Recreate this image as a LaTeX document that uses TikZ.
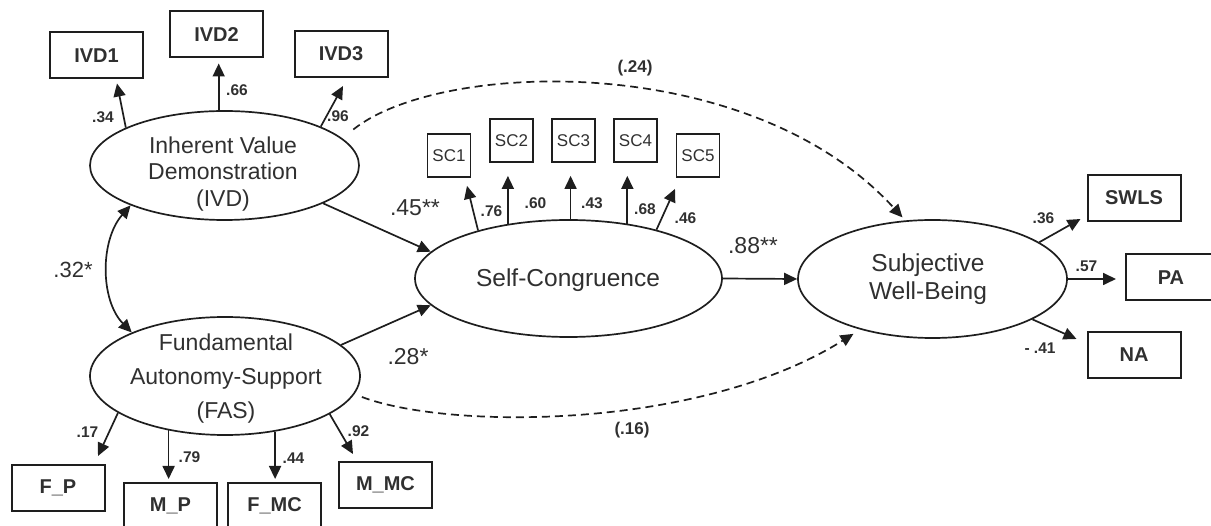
\documentclass[tikz,border=0pt]{standalone}
\usepackage{fontspec}
\setmainfont{Liberation Sans}
\usetikzlibrary{shapes.geometric,arrows.meta,calc}
\definecolor{linec}{HTML}{1E1E1E}
\definecolor{txtc}{HTML}{303030}
\begin{document}
\begin{tikzpicture}[x=1pt,y=-1pt,
  lat/.style={ellipse, draw=linec, line width=1.7pt, inner sep=0pt},
  lattxt/.style={align=center, text=txtc, inner sep=0pt},
  obs/.style={rectangle, draw=linec, line width=2pt, inner sep=0pt, text=txtc,
     font=\bfseries\fontsize{20}{20}\selectfont, minimum width=93pt, minimum height=46pt},
  scbox/.style={rectangle, draw=linec, line width=1.8pt, inner sep=0pt, text=txtc,
     font=\fontsize{17}{17}\selectfont, minimum width=43pt, minimum height=43pt},
  coef/.style={text=txtc, inner sep=0pt, font=\bfseries\fontsize{15.5}{16}\selectfont},
  bigcoef/.style={text=txtc, inner sep=0pt, font=\fontsize{23}{24}\selectfont},
  arr/.style={draw=linec, line width=1.7pt, -{Triangle[length=13pt,width=12pt]}},
  darr/.style={arr, dash pattern=on 8pt off 5pt},
]
\path[use as bounding box] (0,0) rectangle (1211,526);
\clip (0,0) rectangle (1211,526);

% latent variables
\node[lat, minimum width=269pt, minimum height=109pt] (ivd) at (224.5,165.5) {};
\node[lattxt, font=\fontsize{23}{26.5}\selectfont] (ivdt) at (223,174) {Inherent Value\\Demonstration\\(IVD)};
\node[lat, minimum width=270pt, minimum height=118pt] (fas) at (225,376) {};
\node[lattxt, font=\fontsize{23}{34}\selectfont] (fast) at (226,379) {Fundamental\\Autonomy-Support\\(FAS)};
\node[lat, minimum width=307pt, minimum height=117pt] (sc) at (568.5,278.5) {};
\node[lattxt, font=\fontsize{24.5}{28}\selectfont] (sct) at (568,280) {Self-Congruence};
\node[lat, minimum width=269pt, minimum height=118pt] (swb) at (932.5,279) {};
\node[lattxt, font=\fontsize{24.5}{28}\selectfont] (swbt) at (928,279) {Subjective\\Well-Being};

% indicators
\node[obs] (ivd1) at (96.5,55.5) {IVD1};
\node[obs] (ivd2) at (216.5,34.5) {IVD2};
\node[obs] (ivd3) at (341,54) {IVD3};
\node[scbox] (sc1) at (449,155.5) {SC1};
\node[scbox] (sc2) at (511.5,140.5) {SC2};
\node[scbox] (sc3) at (573.5,140.5) {SC3};
\node[scbox] (sc4) at (635.5,140.5) {SC4};
\node[scbox] (sc5) at (698,155.5) {SC5};
\node[obs] (swls) at (1134,198) {SWLS};
\node[obs, minimum width=90pt] (pa) at (1171,277.5) {PA};
\node[obs] (na) at (1134,355) {NA};
\node[obs] (fp) at (58,488) {F\_P};
\node[obs] (mp) at (170.5,506) {M\_P};
\node[obs] (fmc) at (274.5,506) {F\_MC};
\node[obs] (mmc) at (385.5,485) {M\_MC};

% loadings
\draw[arr] (ivd.159) -- ($(ivd1.south)+(20.5,4)$);
\draw[arr] (ivd.96) -- ($(ivd.96 |- ivd2.south)+(0,5)$);
\draw[arr] (ivd.22) -- ($(ivd3.south)+(2,8)$);
\draw[arr] (fas.199) -- ($(fp.north)+(40,-8)$);
\draw[arr] (fas.224) -- ($(fas.224 |- mp.north)+(0,-3)$);
\draw[arr] (fas.312) -- ($(fas.312 |- fmc.north)+(0,-3)$);
\draw[arr] (fas.340) -- ($(mmc.north)+(-32.5,-7)$);
\draw[arr] (sc.152) -- ($(sc1.south)+(18,8)$);
\draw[arr] (sc.138) -- ($(sc.138 |- sc2.south)+(0,13)$);
\draw[arr] (sc.88) -- ($(sc.88 |- sc3.south)+(0,13)$);
\draw[arr] (sc.43) -- ($(sc.43 |- sc4.south)+(0,13)$);
\draw[arr] (sc.29) -- ($(sc5.south)+(-23,11)$);
\draw[arr] (swb.19) -- ($(swls.south west)+(-6,-3)$);
\draw[arr] (swb.east) -- ($(swb.east -| pa.west)+(-9,0)$);
\draw[arr] (swb.338) -- ($(na.north west)+(-10,8)$);

% structural paths
\draw[arr] (ivd.339) -- (sc.169);
\draw[arr] (fas.15) -- (sc.191);
\draw[arr] (sc.east) -- (swb.west);
\draw[arr, {Triangle[length=13pt,width=12pt]}-{Triangle[length=13pt,width=12pt]}]
  (ivd.203) .. controls (100,240) and (100,300) .. (fas.155);
\draw[darr, shorten <=14pt, shorten >=4pt] (ivd.13) .. controls (440,60) and (750,50) .. (swb.115);
\draw[darr, shorten <=8pt, shorten >=8pt] (fas.352) .. controls (450,430) and (700,430) .. (swb.215);

% coefficients
\node[coef] (l1) at (103,117) {.34};
\node[coef] (l2) at (237,90) {.66};
\node[coef] (l3) at (338,116) {.96};
\node[coef] (l4) at (87.5,432) {.17};
\node[coef] (l5) at (189.5,457) {.79};
\node[coef] (l6) at (293.5,458) {.44};
\node[coef] (l7) at (358.5,431) {.92};
\node[coef] (l8) at (491.5,211) {.76};
\node[coef] (l9) at (535.5,203) {.60};
\node[coef] (l10) at (592,203) {.43};
\node[coef] (l11) at (645,209) {.68};
\node[coef] (l12) at (685.5,218) {.46};
\node[coef] (l13) at (1043.5,218) {.36};
\node[coef] (l14) at (1086.5,266) {.57};
\node[coef] (l15) at (1040,348) {- .41};
\node[bigcoef] (p1) at (415,208) {.45**};
\node[bigcoef] (p2) at (408,357) {.28*};
\node[bigcoef] (p3) at (753,246) {.88**};
\node[bigcoef, font=\fontsize{22}{24}\selectfont] (p4) at (73,270) {.32*};
\node[coef, font=\bfseries\fontsize{17}{18}\selectfont] (p5) at (635,68) {(.24)};
\node[coef, font=\bfseries\fontsize{17}{18}\selectfont] (p6) at (632,430) {(.16)};
\end{tikzpicture}
\end{document}
